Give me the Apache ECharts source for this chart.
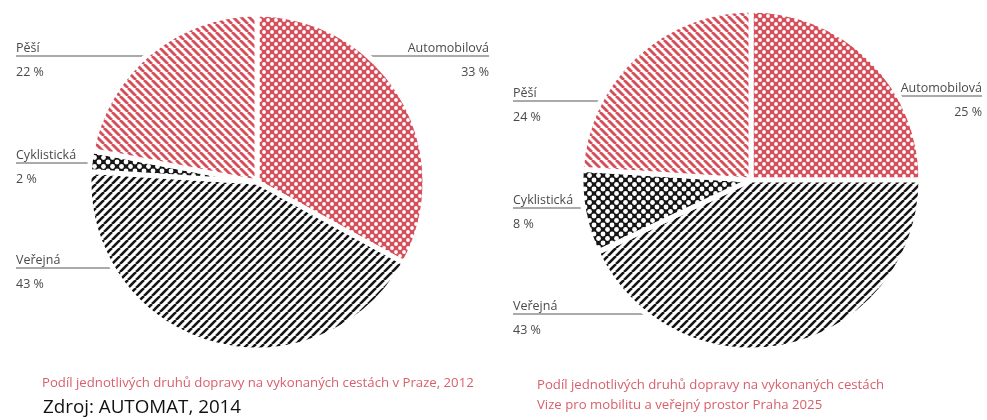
<!DOCTYPE html>
<html><head><meta charset="utf-8">
<script src="https://cdn.jsdelivr.net/npm/echarts@6/dist/echarts.min.js"></script>
<style>html,body{margin:0;padding:0;background:#fff}#c{width:987px;height:420px}</style>
</head><body><div id="c"></div>
<script>
// ---- data ----
const categories = ['Automobilová', 'Veřejná', 'Cyklistická', 'Pěší'];
const values2012 = [33, 43, 2, 22];
const values2025 = [25, 43, 8, 24];
const caption2012 = 'Podíl jednotlivých druhů dopravy na vykonaných cestách v Praze, 2012';
const caption2025 = 'Podíl jednotlivých druhů dopravy na vykonaných cestách\nVize pro mobilitu a veřejný prostor Praha 2025';
const sourceText = 'Zdroj: AUTOMAT, 2014';

// ---- styles ----
const RED = '#d74e5b', BLACK = '#151515', FONT = 'Open Sans';
function stripes(color, dir, s, lw) {
  const c = document.createElement('canvas'); c.width = s; c.height = s;
  const g = c.getContext('2d');
  g.fillStyle = '#fff'; g.fillRect(0, 0, s, s);
  g.strokeStyle = color; g.lineWidth = lw;
  for (let x0 = -s; x0 <= s; x0 += s) {
    g.beginPath();
    if (dir === 'down') { g.moveTo(x0, 0); g.lineTo(x0 + s, s); }
    else { g.moveTo(x0, s); g.lineTo(x0 + s, 0); }
    g.stroke();
  }
  return { image: c, repeat: 'repeat' };
}
function dots(color, s, rad) {
  const c = document.createElement('canvas'); c.width = s; c.height = s;
  const g = c.getContext('2d');
  g.fillStyle = color; g.fillRect(0, 0, s, s);
  g.fillStyle = '#fff';
  [[0,0],[s,0],[0,s],[s,s],[s/2,s/2]].forEach(([x,y]) => { g.beginPath(); g.arc(x, y, rad, 0, Math.PI*2); g.fill(); });
  return { image: c, repeat: 'repeat' };
}
const fills = [dots(RED, 8, 1.9), stripes(BLACK, 'up', 8, 2.6), dots(BLACK, 9, 2.4), stripes(RED, 'down', 8, 2.8)];

// label placement (line y and outer text edge) per pie
const pies = [
  { center: [257, 182], r: 168, values: values2012,
    labels: [ {side:'right', y:56, x:489}, {side:'left', y:268, x:16}, {side:'left', y:163, x:16}, {side:'left', y:56, x:16} ] },
  { center: [751, 180], r: 170, values: values2025,
    labels: [ {side:'right', y:96, x:982}, {side:'left', y:314, x:513}, {side:'left', y:208, x:513}, {side:'left', y:101, x:513} ] }
];
const BW = 5;

const series = pies.map(p => ({
  type: 'pie',
  center: p.center,
  radius: [0, p.r],
  startAngle: 90,
  clockwise: true,
  avoidLabelOverlap: false,
  emphasis: { disabled: true },
  itemStyle: { borderColor: '#fff', borderWidth: BW },
  label: {
    show: true, position: 'outer',
    formatter: '{n|{b}}\n{v|{c} %}',
    color: '#4a4a4a', fontFamily: FONT, fontSize: 12.5,
    rich: {
      n: { fontFamily: FONT, fontSize: 12.5, color: '#4a4a4a', lineHeight: 32 },
      v: { fontFamily: FONT, fontSize: 12.5, color: '#4a4a4a', lineHeight: 16 }
    }
  },
  labelLine: { show: true, smooth: false, lineStyle: { color: '#8e8e8e', width: 1.6 } },
  labelLayout: function (params) {
    const L = p.labels[params.dataIndex];
    const vr = p.r - BW / 2;
    const dy = L.y - p.center[1];
    const dx = Math.sqrt(Math.max(0, vr * vr - dy * dy));
    const edgeX = L.side === 'right' ? p.center[0] + dx : p.center[0] - dx;
    return {
      x: L.x, y: L.y,
      align: L.side === 'right' ? 'right' : 'left',
      verticalAlign: 'middle',
      labelLinePoints: [[edgeX, L.y], [edgeX, L.y], [L.x, L.y]]
    };
  },
  data: categories.map((name, i) => ({
    name: name, value: p.values[i],
    itemStyle: { color: fills[i] }
  }))
}));

const chart = echarts.init(document.getElementById('c'), null, { renderer: 'canvas' });
chart.setOption({
  animation: false,
  backgroundColor: '#fff',
  title: [
    { text: caption2012, left: 42, top: 377, padding: 0,
      textStyle: { color: '#d8606b', fontSize: 13.2, fontWeight: 'normal', fontFamily: FONT } },
    { text: sourceText, left: 43, top: 398, padding: 0,
      textStyle: { color: '#111', fontSize: 18.8, fontWeight: 'normal', fontFamily: FONT } },
    { text: caption2025, left: 537, top: 375, padding: 0,
      textStyle: { color: '#d8606b', fontSize: 13.2, fontWeight: 'normal', fontFamily: FONT, lineHeight: 20 } }
  ],
  series: series
});
</script></body></html>
